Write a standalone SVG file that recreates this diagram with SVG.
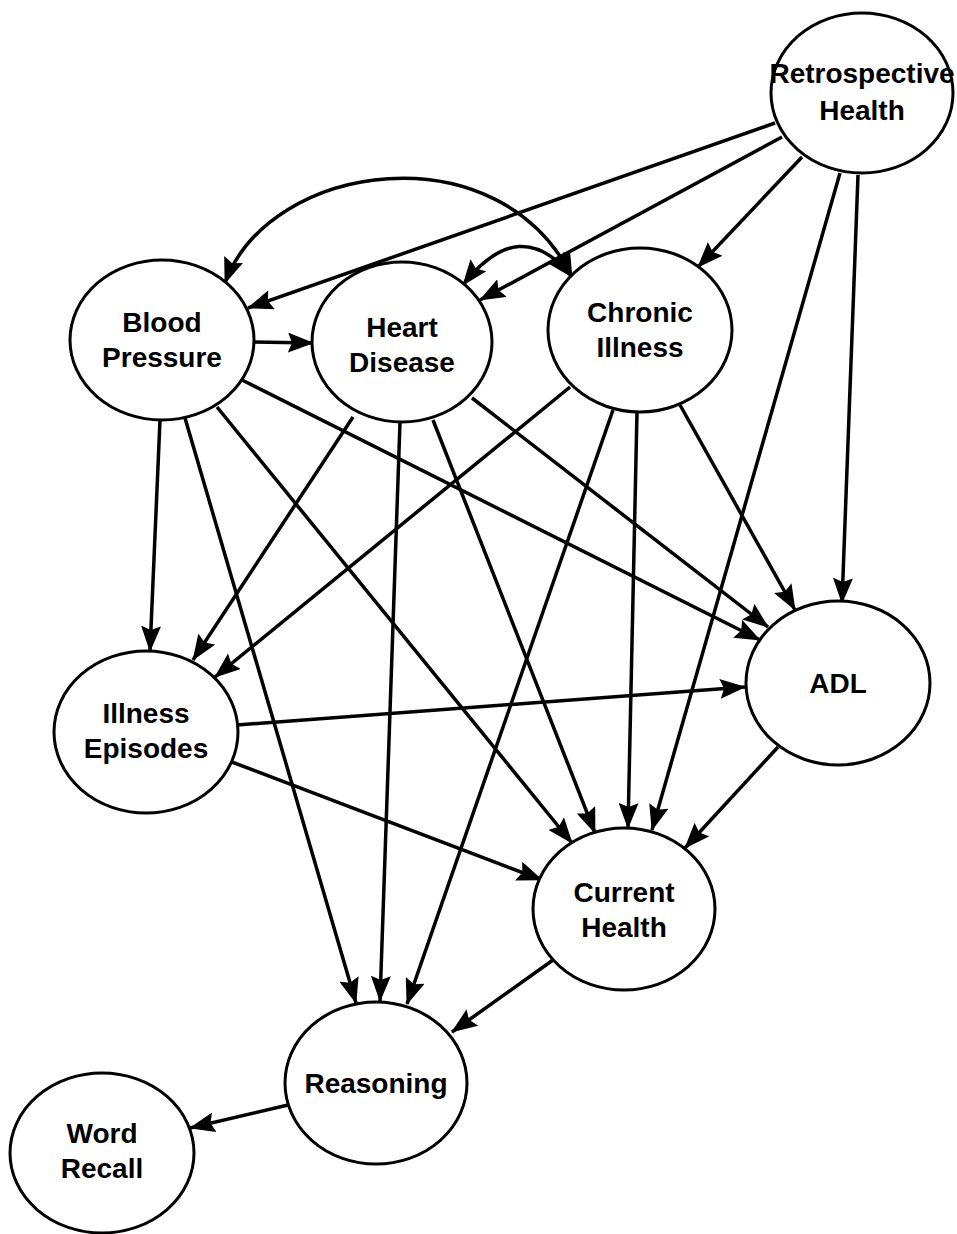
<svg xmlns="http://www.w3.org/2000/svg" width="957" height="1234" viewBox="0 0 957 1234">
  <style>
    .node ellipse { fill: #ffffff; stroke: #000000; stroke-width: 3; }
    .node text { font-family: "Liberation Sans", Arial, sans-serif; font-weight: bold; font-size: 28px; fill: #000000; text-anchor: middle; }
    .edge { fill: none; stroke: #000000; stroke-width: 3.5; marker-end: url(#arrow); }
    .both { marker-start: url(#arrow); }
  </style>
  <defs>
    <marker id="arrow" viewBox="0 0 26 20" refX="25" refY="10" markerWidth="26" markerHeight="20" markerUnits="userSpaceOnUse" orient="auto-start-reverse">
      <path d="M0,0 L26,10 L0,20 L4,10 z" fill="#000000"/>
    </marker>
  </defs>
  <rect width="957" height="1234" fill="#ffffff"/>

  <!-- connectors -->
  <g id="connectors">
    <!-- from Retrospective Health -->
    <line class="edge" x1="775" y1="123" x2="248" y2="308"/>
    <line class="edge" x1="782" y1="137" x2="480" y2="300"/>
    <line class="edge" x1="802" y1="157" x2="698" y2="267"/>
    <line class="edge" x1="840" y1="173" x2="652" y2="830"/>
    <line class="edge" x1="858" y1="175" x2="842" y2="603"/>
    <!-- correlations -->
    <path class="edge both" d="M225,283 C270,160 500,130 572,277"/>
    <path class="edge both" d="M463,285 Q520,212 572,277"/>
    <!-- from Blood Pressure -->
    <line class="edge" x1="254" y1="342" x2="313" y2="343"/>
    <line class="edge" x1="160" y1="420" x2="150" y2="651"/>
    <line class="edge" x1="185" y1="418" x2="356" y2="1003"/>
    <line class="edge" x1="217" y1="407" x2="572" y2="843"/>
    <line class="edge" x1="242" y1="380" x2="760" y2="640"/>
    <!-- from Heart Disease -->
    <line class="edge" x1="353" y1="417" x2="193" y2="660"/>
    <line class="edge" x1="400" y1="422" x2="380" y2="1001"/>
    <line class="edge" x1="433" y1="420" x2="595" y2="833"/>
    <line class="edge" x1="472" y1="398" x2="768" y2="627"/>
    <!-- from Chronic Illness -->
    <line class="edge" x1="570" y1="387" x2="215" y2="677"/>
    <line class="edge" x1="613" y1="410" x2="407" y2="1004"/>
    <line class="edge" x1="637" y1="412" x2="628" y2="828"/>
    <line class="edge" x1="680" y1="405" x2="795" y2="610"/>
    <!-- from Illness Episodes -->
    <line class="edge" x1="237" y1="725" x2="745" y2="687"/>
    <line class="edge" x1="232" y1="762" x2="542" y2="880"/>
    <!-- from ADL -->
    <line class="edge" x1="778" y1="747" x2="685" y2="848"/>
    <!-- from Current Health -->
    <line class="edge" x1="553" y1="960" x2="452" y2="1032"/>
    <!-- from Reasoning -->
    <line class="edge" x1="288" y1="1105" x2="190" y2="1128"/>
  </g>

  <!-- nodes -->
  <g id="retrospective-health" class="node">
    <ellipse cx="862" cy="93" rx="91" ry="80"/>
    <text x="862" y="83">Retrospective</text>
    <text x="862" y="120">Health</text>
  </g>
  <g id="blood-pressure" class="node">
    <ellipse cx="162" cy="340" rx="92" ry="80"/>
    <text x="162" y="332">Blood</text>
    <text x="162" y="367">Pressure</text>
  </g>
  <g id="heart-disease" class="node">
    <ellipse cx="402" cy="342" rx="90" ry="80"/>
    <text x="402" y="337">Heart</text>
    <text x="402" y="372">Disease</text>
  </g>
  <g id="chronic-illness" class="node">
    <ellipse cx="640" cy="330" rx="92" ry="82"/>
    <text x="640" y="322">Chronic</text>
    <text x="640" y="357">Illness</text>
  </g>
  <g id="illness-episodes" class="node">
    <ellipse cx="146" cy="732" rx="92" ry="81"/>
    <text x="146" y="723">Illness</text>
    <text x="146" y="758">Episodes</text>
  </g>
  <g id="adl" class="node">
    <ellipse cx="838" cy="683" rx="92" ry="82"/>
    <text x="838" y="693">ADL</text>
  </g>
  <g id="current-health" class="node">
    <ellipse cx="624" cy="909" rx="91" ry="81"/>
    <text x="624" y="902">Current</text>
    <text x="624" y="937">Health</text>
  </g>
  <g id="reasoning" class="node">
    <ellipse cx="376" cy="1083" rx="91" ry="81"/>
    <text x="376" y="1093">Reasoning</text>
  </g>
  <g id="word-recall" class="node">
    <ellipse cx="102" cy="1153" rx="92" ry="80"/>
    <text x="102" y="1143">Word</text>
    <text x="102" y="1178">Recall</text>
  </g>
</svg>
